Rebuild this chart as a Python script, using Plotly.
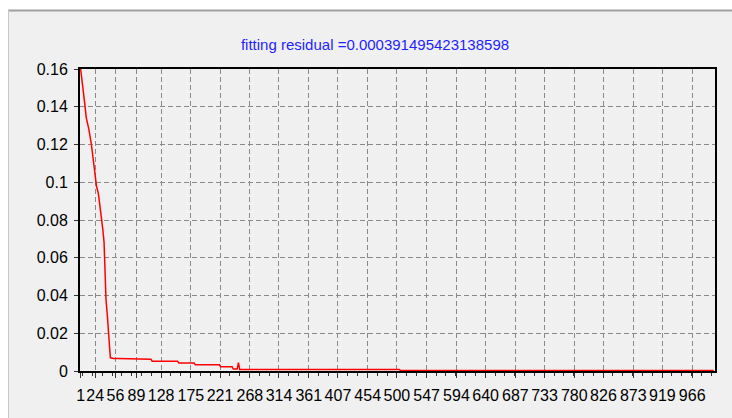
import plotly.graph_objects as go

# ---- data ----
iteration = [1, 4, 7, 10, 14, 18, 21, 24, 26, 29, 31, 34, 36, 38, 39, 41, 43, 45, 46, 47, 48,
             53, 60, 112, 114, 154, 156, 180, 182, 220, 222, 240, 242, 248, 250, 252,
             504, 506, 1000]
residual = [0.160, 0.150, 0.143, 0.134, 0.128, 0.120, 0.112, 0.104, 0.098, 0.094, 0.089,
            0.081, 0.075, 0.068, 0.052, 0.038, 0.030, 0.023, 0.016, 0.011, 0.007,
            0.0066, 0.0066, 0.0062, 0.0051, 0.0051, 0.0042, 0.0042, 0.0033, 0.0033, 0.0022,
            0.0022, 0.0010, 0.0010, 0.0044, 0.0008,
            0.0008, 0.0002, 0.0002]

x_tick_labels = [1, 24, 56, 89, 128, 175, 221, 268, 314, 361, 407, 454, 500, 547, 594,
                 640, 687, 733, 780, 826, 873, 919, 966]
y_ticks = [0, 0.02, 0.04, 0.06, 0.08, 0.1, 0.12, 0.14, 0.16]
title_text = "fitting residual =0.000391495423138598"

W, H = 732, 418
L, R, T, B = 80, 17, 69, 47


def px(x):
    return (x - L) / (W - L - R)


def py(y):
    return (H - B - y) / (H - T - B)


fig = go.Figure()
fig.add_trace(go.Scatter(x=iteration, y=residual, mode="lines",
                         line=dict(color="#ff0000", width=1.5), showlegend=False))

font_family = "Liberation Sans, Arial, sans-serif"

fig.update_layout(
    width=W, height=H,
    margin=dict(l=L, r=R, t=T, b=B, autoexpand=False),
    paper_bgcolor="#f0f0f0",
    plot_bgcolor="#f0f0f0",
    title=dict(text=title_text, x=(375) / W, xanchor="center", xref="container",
               y=1 - 45 / H, yanchor="middle", yref="container",
               font=dict(family=font_family, size=15, color="#1f1fff")),
    font=dict(family=font_family, size=16, color="#000000"),
    xaxis=dict(range=[0, 1002], tickmode="array", tickvals=x_tick_labels,
               ticktext=[str(v) for v in x_tick_labels], tickangle=0,
               showgrid=True, gridcolor="#8a8a8a", griddash="5px,3px", gridwidth=1,
               showline=True, linecolor="#000000", linewidth=2, mirror=True,
               ticks="outside", ticklen=5, tickcolor="#333333", tickwidth=1,
               ticklabelstandoff=4,
               minor=dict(tickmode="linear", tick0=221, dtick=15.5, ticks="outside",
                          ticklen=3, tickcolor="#333333", showgrid=False),
               zeroline=False, fixedrange=True),
    yaxis=dict(range=[0, 0.16], tickmode="array", tickvals=y_ticks,
               ticktext=[f"{v:g}" for v in y_ticks],
               showgrid=True, gridcolor="#8a8a8a", griddash="5px,3px", gridwidth=1,
               showline=True, linecolor="#000000", linewidth=2, mirror=True,
               ticks="outside", ticklen=4, tickcolor="#333333", tickwidth=1,
               ticklabelstandoff=3,
               zeroline=False, fixedrange=True),
    shapes=[
        # white strip above the panel border
        dict(type="rect", xref="paper", yref="paper", x0=px(0), x1=px(W), y0=py(10), y1=py(0),
             fillcolor="#ffffff", line=dict(width=0), layer="below"),
        dict(type="rect", xref="paper", yref="paper", x0=px(0), x1=px(8), y0=py(H), y1=py(0),
             fillcolor="#ffffff", line=dict(width=0), layer="below"),
        # panel border lines
        dict(type="line", xref="paper", yref="paper", x0=px(8), x1=px(W), y0=py(10.5), y1=py(10.5),
             line=dict(color="#a0a0a0", width=2)),
        dict(type="line", xref="paper", yref="paper", x0=px(8.5), x1=px(8.5), y0=py(10), y1=py(H),
             line=dict(color="#c8c8c8", width=1)),
    ],
)

fig.write_html("out.html", config={"displayModeBar": False},
               post_script="document.body.style.margin='0';document.body.style.overflow='hidden';")
